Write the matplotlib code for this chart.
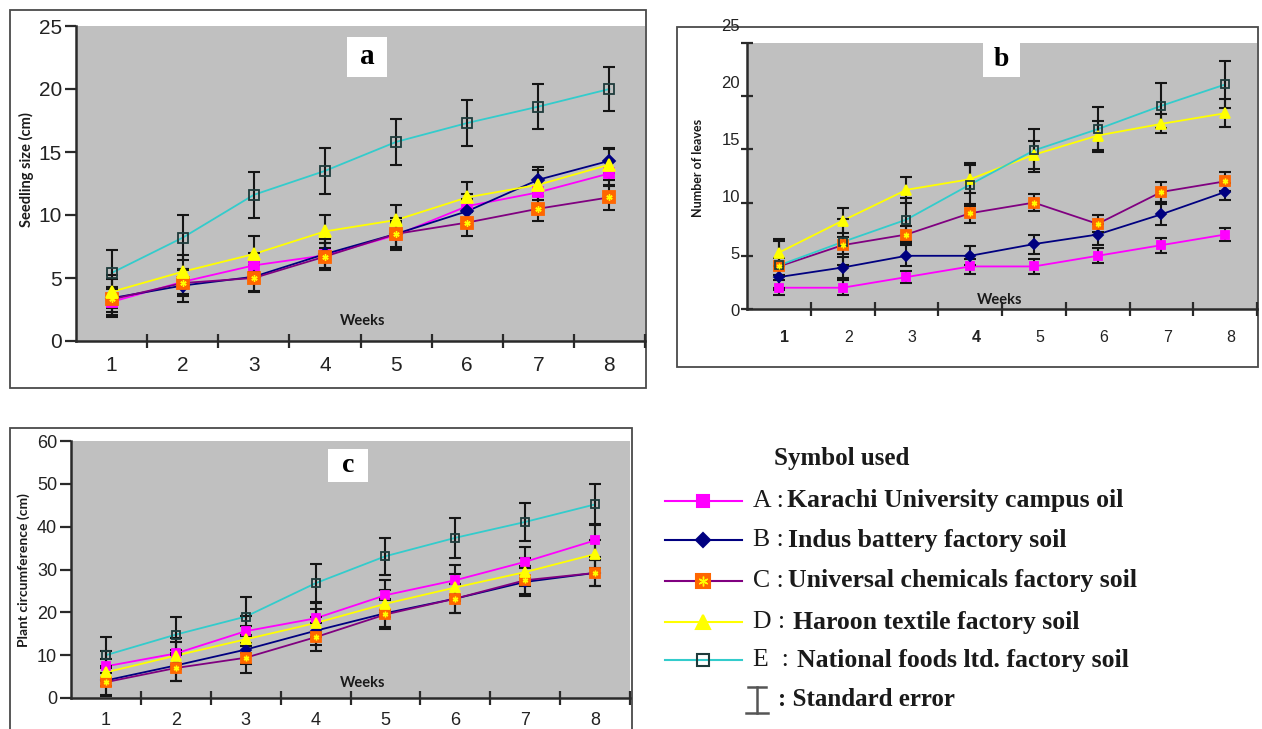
import matplotlib
matplotlib.use("Agg")
import matplotlib.pyplot as plt
from matplotlib.patches import Rectangle
from matplotlib.lines import Line2D
from matplotlib.transforms import ScaledTranslation

# ---------------- data ----------------
weeks = [1, 2, 3, 4, 5, 6, 7, 8]
week_labels = ["1", "2", "3", "4", "5", "6", "7", "8"]

# (a) seedling size (cm)
size_A = [3.1, 4.7, 6.0, 6.8, 8.4, 10.7, 11.8, 13.3]
size_B = [3.4, 4.4, 5.1, 6.9, 8.5, 10.3, 12.8, 14.3]
size_C = [3.3, 4.6, 5.0, 6.7, 8.5, 9.4, 10.5, 11.4]
size_D = [3.9, 5.5, 6.9, 8.7, 9.6, 11.4, 12.4, 14.0]
size_E = [5.4, 8.2, 11.6, 13.5, 15.8, 17.3, 18.6, 20.0]
size_err_A = [1.0, 1.0, 1.0, 1.0, 1.0, 1.0, 1.0, 1.0]
size_err_B = [1.5, 1.3, 1.2, 1.2, 1.3, 1.0, 1.0, 1.0]
size_err_C = [1.0, 1.0, 1.0, 1.1, 1.0, 1.1, 1.0, 1.0]
size_err_D = [1.3, 1.3, 1.4, 1.3, 1.2, 1.2, 1.2, 1.2]
size_err_E = [1.8, 1.8, 1.8, 1.8, 1.8, 1.85, 1.8, 1.75]

# (b) number of leaves
leaves_A = [2, 2, 3, 4, 4, 5, 6, 7]
leaves_B = [3, 3.9, 5, 5, 6.1, 7, 8.9, 11]
leaves_C = [4, 6, 7, 9, 10, 8, 11, 12]
leaves_D = [5.3, 8.3, 11.2, 12.2, 14.5, 16.3, 17.4, 18.4]
leaves_E = [4.1, 6.3, 8.4, 11.7, 14.9, 16.9, 19.1, 21.1]
leaves_err_A = [0.7, 0.7, 0.6, 0.7, 0.7, 0.7, 0.7, 0.6]
leaves_err_B = [1.0, 1.0, 1.0, 0.9, 0.9, 1.0, 1.0, 0.8]
leaves_err_C = [0.8, 0.8, 0.8, 0.9, 0.8, 0.8, 0.9, 0.9]
leaves_err_D = [1.3, 1.2, 1.2, 1.3, 1.3, 1.4, 0.9, 1.3]
leaves_err_E = [2.3, 2.2, 2.0, 2.0, 2.0, 2.1, 2.1, 2.2]

# (c) plant circumference (cm)
circ_A = [7.4, 10.4, 15.6, 18.6, 24.0, 27.5, 31.8, 36.8]
circ_B = [4.1, 7.6, 11.3, 15.7, 19.8, 23.2, 27.1, 29.2]
circ_C = [3.7, 7.0, 9.4, 14.2, 19.5, 23.2, 27.5, 29.2]
circ_D = [6.0, 9.9, 13.7, 17.5, 22.0, 25.8, 29.4, 33.6]
circ_E = [10.0, 14.8, 19.0, 26.8, 33.1, 37.4, 41.1, 45.2]
circ_err_A = [3.5, 3.5, 3.5, 3.5, 3.5, 3.5, 3.5, 3.8]
circ_err_B = [3.3, 3.6, 3.4, 3.3, 3.3, 3.3, 3.3, 3.1]
circ_err_C = [3.3, 3.0, 3.5, 3.3, 3.3, 3.3, 3.3, 3.1]
circ_err_D = [3.2, 3.2, 3.2, 3.2, 3.2, 3.2, 3.2, 3.2]
circ_err_E = [4.2, 4.2, 4.5, 4.5, 4.3, 4.6, 4.5, 4.7]

legend_letters = ["A :", "B :", "C :", "D :", "E  :"]
legend_names = ["Karachi University campus oil", "Indus battery factory soil",
                "Universal chemicals factory soil", "Haroon textile factory soil",
                "National foods ltd. factory soil"]

# ---------------- styles ----------------
GRAY = "#C0C0C0"
styles = {
    "A": dict(color="#FF00FF", marker="s", mfc="#FF00FF", mec="#FF00FF"),
    "B": dict(color="#000080", marker="D", mfc="#000080", mec="#000080"),
    "C": dict(color="#800080", marker="s", mfc="#FF6600", mec="#FF6600"),
    "D": dict(color="#FFFF00", marker="^", mfc="#FFFF00", mec="#FFFF00"),
    "E": dict(color="#33CCCC", marker="s", mfc="none", mec="#1E3B3B"),
}
msize = {"A": 6.5, "B": 6, "C": 8.5, "D": 8, "E": 7}

W, H = 1262, 729
fig = plt.figure(figsize=(W / 100, H / 100), dpi=100)
fig.patch.set_facecolor("white")


def rect(x0, y0, x1, y1):
    return [x0 / W, 1 - y1 / H, (x1 - x0) / W, (y1 - y0) / H]


def frame(x0, y0, x1, y1):
    fig.patches.append(Rectangle((x0 / W, 1 - y1 / H), (x1 - x0) / W, (y1 - y0) / H,
                                 transform=fig.transFigure, facecolor="white",
                                 edgecolor="#4a4a4a", lw=1.3, zorder=-10))


def title_box(x0, y0, x1, y1, s, size):
    fig.patches.append(Rectangle((x0 / W, 1 - y1 / H), (x1 - x0) / W, (y1 - y0) / H,
                                 transform=fig.transFigure, facecolor="white",
                                 edgecolor="none", zorder=5))
    fig.text((x0 + x1) / 2 / W, 1 - (y0 + y1) / 2 / H, s, ha="center", va="center",
             fontsize=size, fontweight="bold", family="Liberation Serif", zorder=6)


def draw_series(ax, series, errs, ms_scale=1.0, cap=4.2):
    for key in ["A", "B", "C", "D", "E"]:
        y = series[key]
        st = styles[key]
        ax.plot(weeks, y, color=st["color"], lw=1.3, zorder=2)
        ax.errorbar(weeks, y, yerr=errs[key], fmt="none", ecolor="#151515",
                    elinewidth=1.5, capsize=cap, capthick=1.5, zorder=3)
        ax.plot(weeks, y, ls="none", marker=st["marker"], ms=msize[key] * ms_scale,
                mfc=st["mfc"], mec=st["mec"], mew=1.3, zorder=4)
        if key == "C":
            ax.plot(weeks, y, ls="none", marker=(6, 2, 0), ms=4.5 * ms_scale,
                    mec="#FFFF00", mew=1.0, zorder=5)


def style_axes(ax, ymax, ystep, ylabsize, xlabsize, xpad, ytick_labels=True):
    ax.set_facecolor(GRAY)
    ax.set_xlim(0.5, 8.5)
    ax.set_ylim(0, ymax)
    for s in ["top", "right"]:
        ax.spines[s].set_visible(False)
    for s in ["left", "bottom"]:
        ax.spines[s].set_color("#2a2a2a")
        ax.spines[s].set_linewidth(1.8)
    ax.set_yticks(list(range(0, ymax + 1, ystep)))
    ax.set_xticks(weeks)
    ax.set_xticklabels(week_labels)
    ax.set_xticks([1.5 + i for i in range(8)], minor=True)
    ax.tick_params(axis="x", which="major", length=0, pad=xpad, labelsize=xlabsize,
                   labelcolor="#222222")
    ax.tick_params(axis="x", which="minor", direction="inout", length=10, width=1.6,
                   color="#2a2a2a")
    ax.tick_params(axis="y", direction="out", length=8, width=1.6, color="#2a2a2a",
                   labelsize=ylabsize, labelcolor="#222222", pad=2)
    if not ytick_labels:
        ax.tick_params(axis="y", labelleft=False, direction="inout", length=9)
    for lab in ax.get_xticklabels() + ax.get_yticklabels():
        lab.set_family("Liberation Sans")


# ---------------- panel a ----------------
frame(10, 10, 646, 388)
ax_a = fig.add_axes(rect(76, 26, 645, 341))
style_axes(ax_a, 25, 5, 15, 15, 11)
draw_series(ax_a,
            {"A": size_A, "B": size_B, "C": size_C, "D": size_D, "E": size_E},
            {"A": size_err_A, "B": size_err_B, "C": size_err_C, "D": size_err_D, "E": size_err_E})
fig.text(26 / W, 1 - 170 / H, "Seedling size (cm)", rotation=90, ha="center", va="center",
         fontsize=10.5, family="Lato", fontweight="bold", color="#1a1a1a")
fig.text(363 / W, 1 - 321 / H, "Weeks", ha="center", va="center", fontsize=10.5,
         family="Lato", fontweight="bold", color="#1a1a1a")
title_box(347, 37, 387, 77, "a", 21)

# ---------------- panel b ----------------
frame(677, 27, 1258, 367)
ax_b = fig.add_axes(rect(747, 43, 1257, 309))
style_axes(ax_b, 25, 5, 11, 11.5, 15, ytick_labels=False)
draw_series(ax_b,
            {"A": leaves_A, "B": leaves_B, "C": leaves_C, "D": leaves_D, "E": leaves_E},
            {"A": leaves_err_A, "B": leaves_err_B, "C": leaves_err_C, "D": leaves_err_D,
             "E": leaves_err_E}, ms_scale=0.9, cap=4.0)
shift = ScaledTranslation(6 / 100, 0, fig.dpi_scale_trans)
for i, lab in enumerate(ax_b.get_xticklabels()):
    lab.set_transform(lab.get_transform() + shift)
    if week_labels[i] in ("1", "4"):
        lab.set_fontweight("bold")
# y tick labels of panel b sit on their own (slightly taller) scale
ax_bl = fig.add_axes(rect(747, 25, 748, 310), frameon=False)
ax_bl.set_ylim(0, 25)
ax_bl.set_yticks(list(range(0, 26, 5)))
ax_bl.set_xticks([])
ax_bl.tick_params(axis="y", length=0, pad=5, labelsize=12, labelcolor="#222222")
for lab in ax_bl.get_yticklabels():
    lab.set_family("Liberation Sans")
fig.text(698 / W, 1 - 168 / H, "Number of leaves", rotation=90, ha="center", va="center",
         fontsize=9, family="Lato", fontweight="bold", color="#1a1a1a")
fig.text(1000 / W, 1 - 300 / H, "Weeks", ha="center", va="center", fontsize=10.5,
         family="Lato", fontweight="bold", color="#1a1a1a")
title_box(983, 42, 1020, 77, "b", 20)

# ---------------- panel c ----------------
frame(10, 428, 632, 745)
ax_c = fig.add_axes(rect(71, 441, 630, 698))
style_axes(ax_c, 60, 10, 13, 13, 10)
draw_series(ax_c,
            {"A": circ_A, "B": circ_B, "C": circ_C, "D": circ_D, "E": circ_E},
            {"A": circ_err_A, "B": circ_err_B, "C": circ_err_C, "D": circ_err_D, "E": circ_err_E},
            ms_scale=0.9, cap=4.0)
fig.text(24 / W, 1 - 570 / H, "Plant circumference (cm)", rotation=90, ha="center",
         va="center", fontsize=10, family="Lato", fontweight="bold", color="#1a1a1a")
fig.text(363 / W, 1 - 683 / H, "Weeks", ha="center", va="center", fontsize=10.5,
         family="Lato", fontweight="bold", color="#1a1a1a")
title_box(328, 449, 368, 482, "c", 20)

# ---------------- legend ----------------
fig.text(774 / W, 1 - 459 / H, "Symbol used", ha="left", va="center", fontsize=18,
         fontweight="bold", family="Liberation Serif", color="#1a1a1a")
leg_y = [501, 540, 581, 622, 660]
name_x = [787, 788, 788, 793, 797]
for i, key in enumerate(["A", "B", "C", "D", "E"]):
    y = 1 - leg_y[i] / H
    st = styles[key]
    fig.add_artist(Line2D([665 / W, 742 / W], [y, y], transform=fig.transFigure,
                          color=st["color"] if key != "C" else "#800080", lw=1.5))
    fig.add_artist(Line2D([703 / W], [y], transform=fig.transFigure, ls="none",
                          marker=st["marker"], ms=msize[key] * 1.25, mfc=st["mfc"],
                          mec=st["mec"], mew=1.5))
    if key == "C":
        fig.add_artist(Line2D([703 / W], [y], transform=fig.transFigure, ls="none",
                              marker=(6, 2, 0), ms=7, mec="#FFFF00", mew=1.0))
    fig.text(753 / W, y, legend_letters[i], ha="left", va="center", fontsize=18.5,
             family="Liberation Serif", color="#1a1a1a")
    fig.text(name_x[i] / W, y, legend_names[i], ha="left", va="center", fontsize=18.5,
             fontweight="bold", family="Liberation Serif", color="#1a1a1a")
# standard error symbol
ys0, ys1 = 1 - 687 / H, 1 - 713 / H
xs = 757 / W
fig.add_artist(Line2D([xs, xs], [ys0, ys1], transform=fig.transFigure, color="#555555", lw=1.8))
fig.add_artist(Line2D([xs - 9 / W, xs + 9 / W], [ys0, ys0], transform=fig.transFigure,
                      color="#555555", lw=1.8))
fig.add_artist(Line2D([xs - 11 / W, xs + 11 / W], [ys1, ys1], transform=fig.transFigure,
                      color="#555555", lw=1.8))
fig.text(778 / W, 1 - 700 / H, ": Standard error", ha="left", va="center", fontsize=18,
         fontweight="bold", family="Liberation Serif", color="#1a1a1a")

fig.savefig("out.png", dpi=100)
